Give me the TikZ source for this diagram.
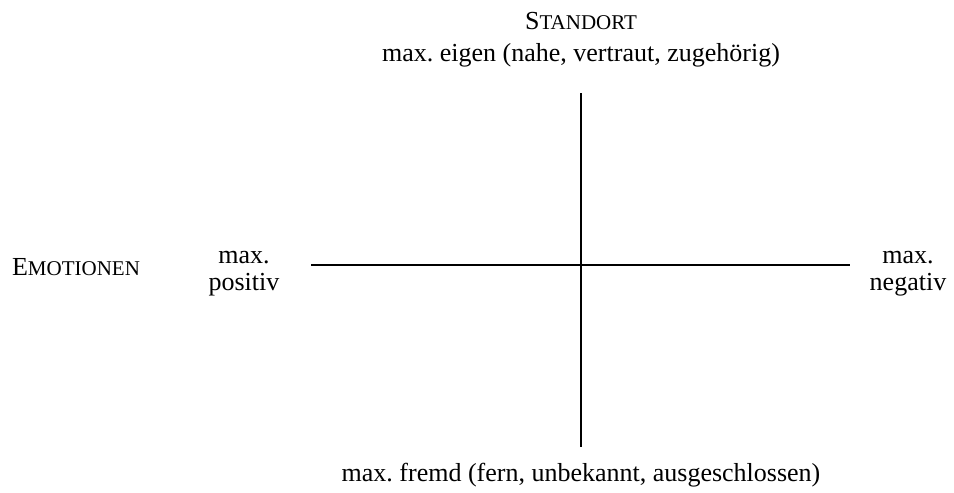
\documentclass[tikz,border=0pt]{standalone}
\usepackage{fontspec}
\setmainfont{Liberation Serif}
\newcommand\fsc[2]{#1{\fontsize{10.5}{12}\selectfont #2}}
\begin{document}
\frenchspacing
\begin{tikzpicture}[x=0.5pt,y=-0.5pt,
  lbl/.style={inner sep=0pt,anchor=base,font=\fontsize{13}{15}\selectfont},
  axis/.style={line width=0.9pt,black}]
\useasboundingbox (0,0) rectangle (954,493);
\coordinate (top) at (581,93);
\coordinate (bot) at (581,447);
\coordinate (lft) at (311,265);
\coordinate (rgt) at (850,265);
\draw[axis] (top) -- (bot);
\draw[axis] (lft) -- (rgt);
\node[lbl] (standort) at (581,29) {\fsc{S}{TANDORT}};
\node[lbl] (eigen) at (581,61) {max. eigen (nahe, vertraut, zugehörig)};
\node[lbl] (fremd) at (581,481) {max. fremd (fern, unbekannt, ausgeschlossen)};
\node[lbl] (emo) at (76,275) {\fsc{E}{MOTIONEN}};
\node[lbl] (pos1) at (244,263) {max.};
\node[lbl] (pos2) at (244,290) {positiv};
\node[lbl] (neg1) at (908,263) {max.};
\node[lbl] (neg2) at (908,290) {negativ};
\end{tikzpicture}
\end{document}
